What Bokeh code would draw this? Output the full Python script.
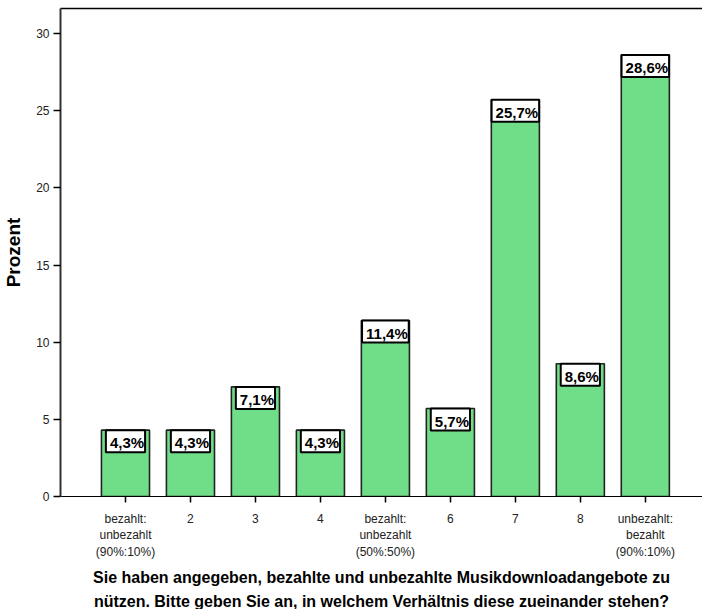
from bokeh.plotting import figure
from bokeh.models import ColumnDataSource, FixedTicker, LinearAxis, Range1d, Title
from bokeh.core.properties import value
from bokeh.embed import file_html
from bokeh.resources import INLINE

categories = ["bezahlt:\nunbezahlt\n(90%:10%)", "2", "3", "4",
              "bezahlt:\nunbezahlt\n(50%:50%)", "6", "7", "8",
              "unbezahlt:\nbezahlt\n(90%:10%)"]
positions = [1, 2, 3, 4, 5, 6, 7, 8, 9]
percent = [4.3, 4.3, 7.1, 4.3, 11.4, 5.7, 25.7, 8.6, 28.6]
labels = ["4,3%", "4,3%", "7,1%", "4,3%", "11,4%", "5,7%", "25,7%", "8,6%", "28,6%"]
y_ticks = [0, 5, 10, 15, 20, 25, 30]
title_lines = ["Sie haben angegeben, bezahlte und unbezahlte Musikdownloadangebote zu",
               "nützen. Bitte geben Sie an, in welchem Verhältnis diese zueinander stehen?"]

src = ColumnDataSource(dict(x=positions, y=percent, lab=labels))

p = figure(width=702, height=609, output_backend="svg", toolbar_location=None,
           x_range=Range1d(0, 9.88), y_range=Range1d(0, 31.62),
           min_border_left=60, min_border_right=0, min_border_top=8, min_border_bottom=0)
p.outline_line_color = None
p.grid.visible = False
p.background_fill_color = "white"

p.vbar(x="x", top="y", width=0.74, bottom=0, source=src,
       fill_color="#70DD88", line_color="#222222", line_width=1.6)

p.text(x="x", y="y", text="lab", source=src, anchor="top_center",
       text_font=value("Liberation Sans"), text_font_style="bold",
       text_font_size="15px", text_color="black",
       background_fill_color="white", border_line_color="black", border_line_width=2,
       padding=[4, 1, 4, 1])

# axes
xa = p.xaxis[0]
xa.ticker = FixedTicker(ticks=positions)
xa.major_label_overrides = {pos: c for pos, c in zip(positions, categories)}
xa.major_label_text_font = "Liberation Sans"
xa.major_label_text_font_size = "12px"
xa.major_label_text_color = "#222222"
xa.major_tick_out = 6
xa.major_tick_in = 0
xa.minor_tick_line_color = None
xa.axis_line_color = "black"
xa.axis_line_width = 1.2
xa.major_tick_line_color = "black"
xa.major_tick_line_width = 1.5
xa.major_label_standoff = 9

ya = p.yaxis[0]
ya.ticker = FixedTicker(ticks=y_ticks)
ya.major_label_text_font = "Liberation Sans"
ya.major_label_text_font_size = "12px"
ya.major_label_text_color = "#222222"
ya.major_tick_out = 7
ya.major_tick_in = 0
ya.minor_tick_line_color = None
ya.axis_line_color = "#333333"
ya.axis_line_width = 2
ya.major_tick_line_color = "black"
ya.major_tick_line_width = 1.5
ya.major_label_standoff = 4
ya.axis_label = "Prozent"
ya.axis_label_text_font = "Liberation Sans"
ya.axis_label_text_font_style = "bold"
ya.axis_label_text_font_size = "19px"
ya.axis_label_text_color = "black"
ya.axis_label_standoff = 9

top = LinearAxis(ticker=FixedTicker(ticks=[]), axis_line_color="black", axis_line_width=1.5,
                 major_tick_line_color=None, minor_tick_line_color=None,
                 major_label_text_font_size="0px", major_label_standoff=0)
p.add_layout(top, "above")

for i, line in enumerate(title_lines):
    t = Title(text=line, align="center", text_font="Liberation Sans",
              text_font_style="bold", text_font_size="16px", text_color="black",
              standoff=(9 if i == 0 else 0), offset=0)
    p.add_layout(t, "below")

open("out.html", "w").write(file_html(p, INLINE))
